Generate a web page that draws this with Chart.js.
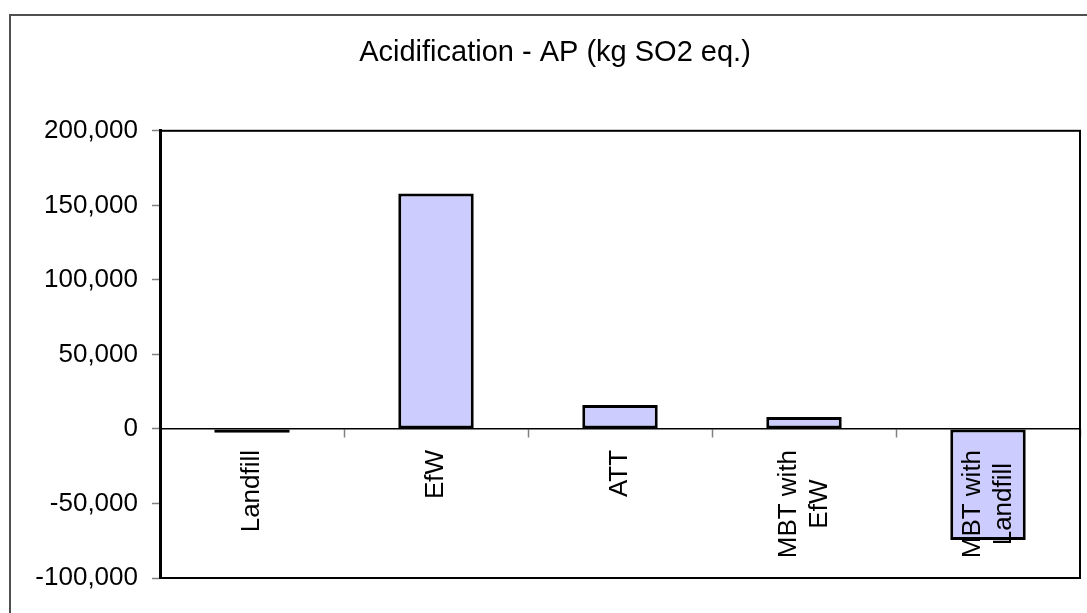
<!DOCTYPE html>
<html>
<head>
<meta charset="utf-8">
<script src="https://cdn.jsdelivr.net/npm/chart.js@4/dist/chart.umd.min.js"></script>
<style>
  html, body { margin: 0; padding: 0; background: #ffffff; }
  #wrap { width: 1087px; height: 613px; position: relative; }
</style>
</head>
<body>
<div id="wrap"><canvas id="c" width="1087" height="613"></canvas></div>
<script>
const chartTitle = 'Acidification - AP (kg SO2 eq.)';
const categories = ['Landfill', 'EfW', 'ATT', ['MBT with', 'EfW'], ['MBT with', 'Landfill']];
const apValues = [-2500, 158000, 16000, 8000, -74500];
const yMin = -100000;
const yMax = 200000;
const yStep = 50000;

const FONT = 'Liberation Sans, Arial, sans-serif';

const framePlugin = {
  id: 'frame',
  beforeDraw(chart) {
    const ctx = chart.ctx;
    ctx.save();
    ctx.fillStyle = '#ffffff';
    ctx.fillRect(0, 0, chart.width, chart.height);
    ctx.strokeStyle = '#505050';
    ctx.lineWidth = 2;
    ctx.strokeRect(10, 15, 1200, 800);
    ctx.restore();

    // centre multi-line rotated category labels the way the original does
    const xs = chart.scales.x;
    const items = xs.getLabelItems(chart.chartArea);
    if (!items._centred) {
      items.forEach((it) => {
        if (Array.isArray(it.label) && it.label.length > 1) {
          ctx.save();
          ctx.font = it.font.string;
          const maxW = Math.max(...it.label.map((s) => ctx.measureText(s).width));
          ctx.restore();
          const lh = it.font.lineHeight;
          it.options.translation[0] -= lh * (it.label.length - 1) / 2;
          it.options.translation[1] += maxW / 2;
          it.options.textAlign = 'center';
        }
      });
      items._centred = true;
    }
  },
  afterDraw(chart) {
    const a = chart.chartArea;
    const ctx = chart.ctx;
    ctx.save();
    ctx.strokeStyle = '#000000';
    ctx.lineWidth = 2;
    ctx.strokeRect(a.left, a.top, a.right - a.left, a.bottom - a.top);
    ctx.restore();
  }
};

new Chart(document.getElementById('c'), {
  type: 'bar',
  data: {
    labels: categories,
    datasets: [{
      data: apValues,
      backgroundColor: '#CCCCFF',
      borderColor: '#000000',
      borderWidth: 3,
      borderSkipped: false,
      inflateAmount: 0,
      categoryPercentage: 1.0,
      barPercentage: 0.41
    }]
  },
  options: {
    responsive: false,
    animation: false,
    layout: { padding: { left: 30, right: 7, top: 15, bottom: 35 } },
    plugins: {
      legend: { display: false },
      tooltip: { enabled: false },
      title: {
        display: true,
        text: chartTitle,
        color: '#000000',
        font: { family: FONT, size: 29, weight: 'normal' },
        padding: { top: 21, bottom: 60 }
      }
    },
    scales: {
      x: {
        position: { y: 0 },
        offset: true,
        grid: {
          display: true,
          offset: true,
          drawOnChartArea: false,
          drawTicks: true,
          tickLength: 8,
          tickColor: '#808080',
          tickWidth: 1.5
        },
        border: { display: true, color: '#000000', width: 1.5 },
        ticks: {
          z: 1,
          color: '#000000',
          font: { family: FONT, size: 26 },
          minRotation: 90,
          maxRotation: 90,
          autoSkip: false,
          padding: 13
        }
      },
      y: {
        min: yMin,
        max: yMax,
        afterFit(scale) { scale.width = 130; },
        grid: {
          display: true,
          drawOnChartArea: false,
          drawTicks: true,
          tickLength: 8,
          tickColor: '#808080',
          tickWidth: 1.5
        },
        border: { display: true, color: '#000000', width: 3 },
        ticks: {
          stepSize: yStep,
          color: '#000000',
          padding: 14,
          font: { family: FONT, size: 26 },
          callback: (v) => Number(v).toLocaleString('en-US')
        }
      }
    }
  },
  plugins: [framePlugin]
});
</script>
</body>
</html>
